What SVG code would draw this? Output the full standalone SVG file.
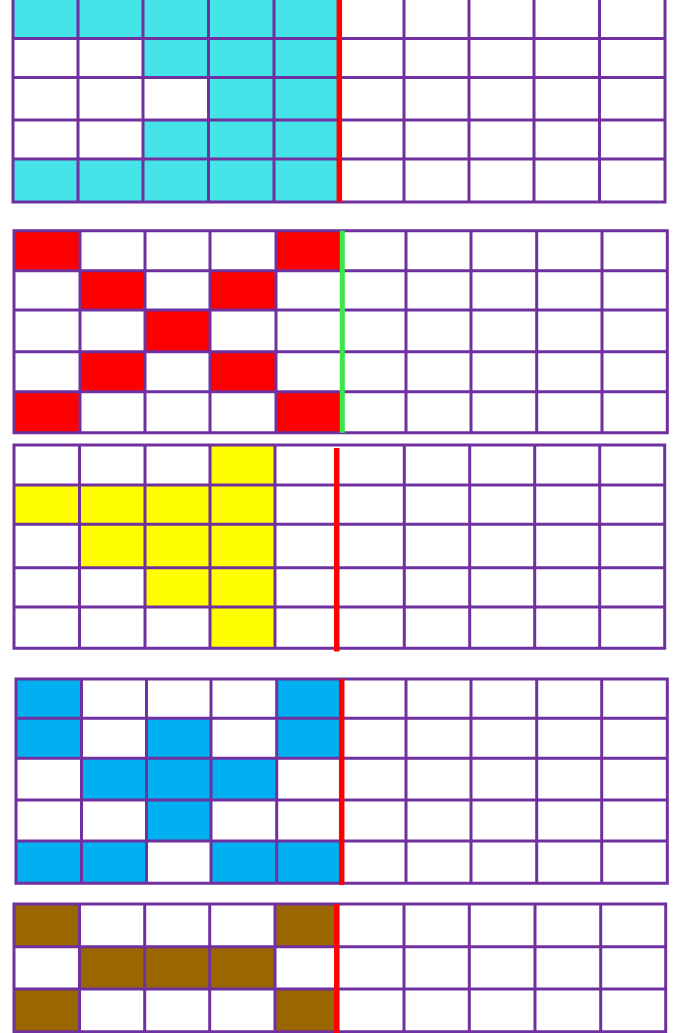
<svg xmlns="http://www.w3.org/2000/svg" width="675" height="1033" viewBox="0 0 675 1033">
<style>
.grid{fill:none;stroke:#7030A0;stroke-width:3;stroke-linecap:square}
.cy{fill:#45E4E8}.rd{fill:#FF0000}.ye{fill:#FFFF00}.bl{fill:#00B0F0}.br{fill:#996600}
.mk{fill:none;stroke-width:5.5;stroke:#FF0000}
.mg{fill:none;stroke-width:5;stroke:#3BE84C}
</style>
<rect width="675" height="1033" fill="#FFFFFF"/>
<g id="grid1">
<rect class="cy" x="13" y="-3" width="326" height="41.5"/>
<rect class="cy" x="143" y="38.5" width="196" height="39"/>
<rect class="cy" x="208.5" y="77.5" width="130.5" height="42.5"/>
<rect class="cy" x="143" y="120" width="196" height="39"/>
<rect class="cy" x="13" y="159" width="326" height="43"/>
<path class="grid" d="M13 38.5H665M13 77.5H665M13 120H665M13 159H665M13 202H665M13 -3V202M78 -3V202M143 -3V202M208.5 -3V202M274 -3V202M404 -3V202M469 -3V202M534 -3V202M599.5 -3V202M665 -3V202"/>
<path class="mk" d="M339.3 -3V202"/>
</g>
<g id="grid2">
<rect class="rd" x="14" y="230.7" width="66" height="40"/>
<rect class="rd" x="276" y="230.7" width="66" height="40"/>
<rect class="rd" x="80" y="270.7" width="65" height="39.3"/>
<rect class="rd" x="210" y="270.7" width="66" height="39.3"/>
<rect class="rd" x="145" y="310" width="65" height="41.7"/>
<rect class="rd" x="80" y="351.7" width="65" height="40"/>
<rect class="rd" x="210" y="351.7" width="66" height="40"/>
<rect class="rd" x="14" y="391.7" width="66" height="41"/>
<rect class="rd" x="276" y="391.7" width="66" height="41"/>
<path class="grid" d="M14 230.7H667.3M14 270.7H667.3M14 310H667.3M14 351.7H667.3M14 391.7H667.3M14 432.7H667.3M14 230.7V432.7M80 230.7V432.7M145 230.7V432.7M210 230.7V432.7M276 230.7V432.7M406 230.7V432.7M471 230.7V432.7M536.7 230.7V432.7M602 230.7V432.7M667.3 230.7V432.7"/>
<path class="mg" d="M342.3 230.7V432.7"/>
</g>
<g id="grid3">
<rect class="ye" x="210" y="445" width="65" height="40"/>
<rect class="ye" x="14" y="485" width="261" height="39.3"/>
<rect class="ye" x="79.5" y="524.3" width="195.5" height="43.4"/>
<rect class="ye" x="145" y="567.7" width="130" height="39.3"/>
<rect class="ye" x="210" y="607" width="65" height="41.3"/>
<path class="grid" d="M14 445H664.7M14 485H664.7M14 524.3H664.7M14 567.7H664.7M14 607H664.7M14 648.3H664.7M14 445V648.3M79.5 445V648.3M145 445V648.3M210 445V648.3M275 445V648.3M404.3 445V648.3M469.7 445V648.3M534.7 445V648.3M599.7 445V648.3M664.7 445V648.3"/>
<path class="mk" d="M336.7 448V651.5"/>
</g>
<g id="grid4">
<rect class="bl" x="16" y="679" width="65.5" height="39.3"/>
<rect class="bl" x="276.7" y="679" width="64.8" height="39.3"/>
<rect class="bl" x="16" y="718.3" width="65.5" height="40"/>
<rect class="bl" x="146.5" y="718.3" width="64.5" height="40"/>
<rect class="bl" x="276.7" y="718.3" width="64.8" height="40"/>
<rect class="bl" x="81.5" y="758.3" width="195.2" height="41.7"/>
<rect class="bl" x="146.5" y="800" width="64.5" height="41"/>
<rect class="bl" x="16" y="841" width="130.5" height="42.3"/>
<rect class="bl" x="211" y="841" width="130.5" height="42.3"/>
<path class="grid" d="M16 679H667.3M16 718.3H667.3M16 758.3H667.3M16 800H667.3M16 841H667.3M16 883.3H667.3M16 679V883.3M81.5 679V883.3M146.5 679V883.3M211 679V883.3M276.7 679V883.3M406 679V883.3M471 679V883.3M536.7 679V883.3M601.7 679V883.3M667.3 679V883.3"/>
<path class="mk" d="M341.7 679V885"/>
</g>
<g id="grid5">
<rect class="br" x="14" y="904" width="65.5" height="42.7"/>
<rect class="br" x="275" y="904" width="62" height="42.7"/>
<rect class="br" x="79.5" y="946.7" width="195.5" height="42.3"/>
<rect class="br" x="14" y="989" width="65.5" height="42.7"/>
<rect class="br" x="275" y="989" width="62" height="42.7"/>
<path class="grid" d="M14 904H665.7M14 946.7H665.7M14 989H665.7M14 1031.7H665.7M14 904V1031.7M79.5 904V1031.7M144.7 904V1031.7M209.7 904V1031.7M275 904V1031.7M404 904V1031.7M469.3 904V1031.7M535 904V1031.7M600.7 904V1031.7M665.7 904V1031.7"/>
<path class="mk" d="M336.8 904V1036"/>
</g>
</svg>
